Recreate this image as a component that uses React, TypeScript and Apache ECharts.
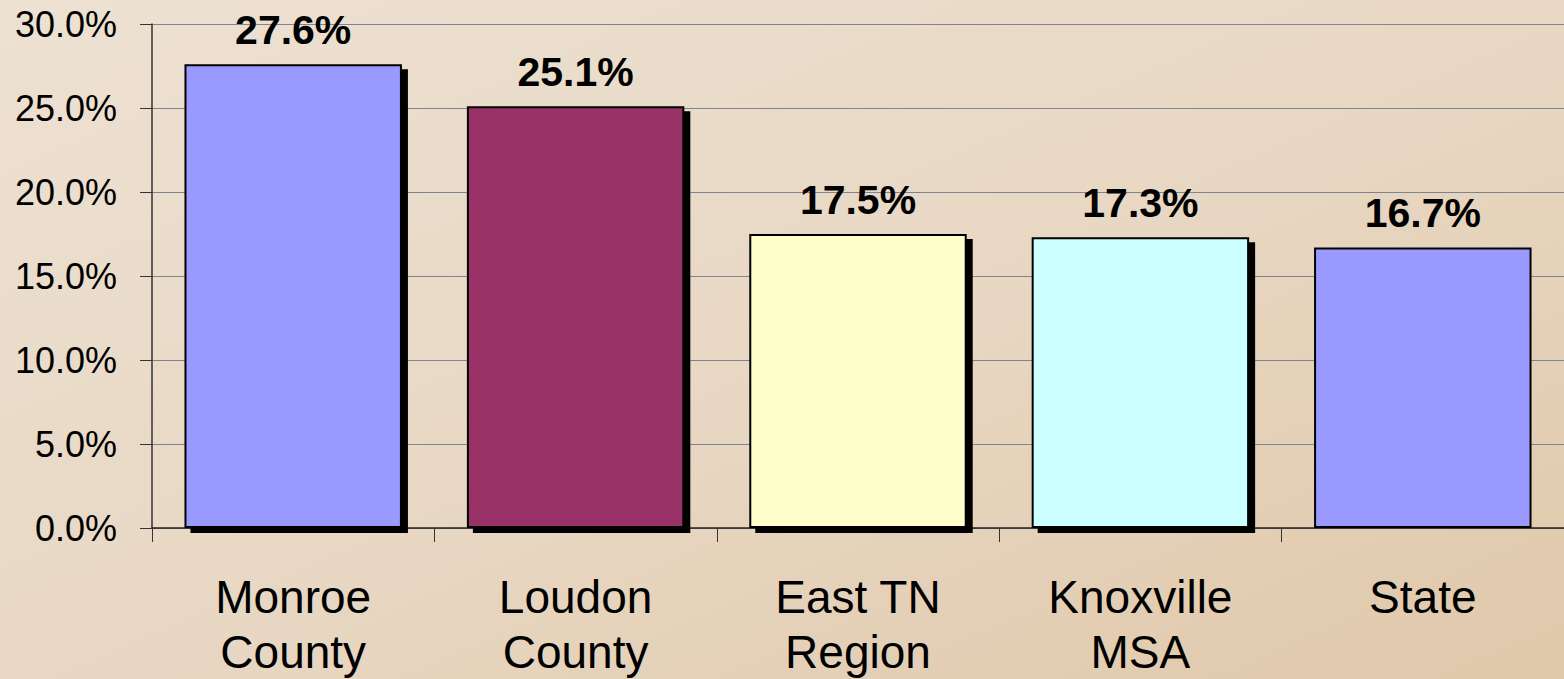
import React, { useEffect, useRef } from "react";
import * as echarts from "echarts";

const categories = ["Monroe\nCounty", "Loudon\nCounty", "East TN\nRegion", "Knoxville\nMSA", "State"];
const values = [27.6, 25.1, 17.5, 17.3, 16.7];
const barColors = ["#9999ff", "#993366", "#ffffcc", "#ccffff", "#9999ff"];
const hasShadow = [true, true, true, true, false];

export default function App() {
  const ref = useRef<HTMLDivElement>(null);
  useEffect(() => {
    if (!ref.current) return;
    const chart = echarts.init(ref.current, null, { renderer: "svg" });
    chart.setOption({
      animation: false,
      backgroundColor: {
        type: "linear",
        x: 0, y: 0, x2: 1, y2: 1,
        colorStops: [
          { offset: 0, color: "#ede1d2" },
          { offset: 0.5, color: "#e8d8c4" },
          { offset: 1, color: "#e0c8aa" },
        ],
      },
      grid: { left: 152, right: -5, top: 24, bottom: 150, containLabel: false },
      xAxis: {
        type: "category",
        data: categories,
        axisLine: { show: true, lineStyle: { color: "#222", width: 1.5 } },
        axisTick: { show: true, length: 14, lineStyle: { color: "#333" } },
        axisLabel: {
          color: "#000",
          fontFamily: "Liberation Sans, Arial, sans-serif",
          fontSize: 46,
          lineHeight: 55,
          margin: 41,
        },
      },
      yAxis: {
        type: "value",
        min: 0,
        max: 30,
        interval: 5,
        axisLine: { show: true, lineStyle: { color: "#333", width: 1.5 } },
        axisTick: { show: true, inside: false, length: 12, lineStyle: { color: "#333" } },
        splitLine: { show: true, lineStyle: { color: "#7f8590", width: 1 } },
        axisLabel: {
          color: "#000",
          fontFamily: "Liberation Sans, Arial, sans-serif",
          fontSize: 36,
          margin: 35,
          formatter: (v: number) => v.toFixed(1) + "%",
        },
      },
      series: [
        {
          type: "bar",
          barWidth: "77%",
          data: values.map((v, i) => ({
            value: v,
            itemStyle: {
              color: barColors[i],
              borderColor: "#000",
              borderWidth: 2,
              shadowColor: hasShadow[i] ? "#000" : "transparent",
              shadowBlur: 0,
              shadowOffsetX: hasShadow[i] ? 6 : 0,
              shadowOffsetY: hasShadow[i] ? 5 : 0,
            },
          })),
          label: {
            show: true,
            position: "top",
            distance: 14,
            color: "#000",
            fontFamily: "Liberation Sans, Arial, sans-serif",
            fontWeight: "bold",
            fontSize: 41,
            formatter: (p: any) => p.value.toFixed(1) + "%",
          },
        },
      ],
    });
    return () => chart.dispose();
  }, []);
  return (
    <div
      ref={ref}
      style={{ position: "fixed", left: 0, top: 0, width: 1564, height: 679 }}
    />
  );
}
